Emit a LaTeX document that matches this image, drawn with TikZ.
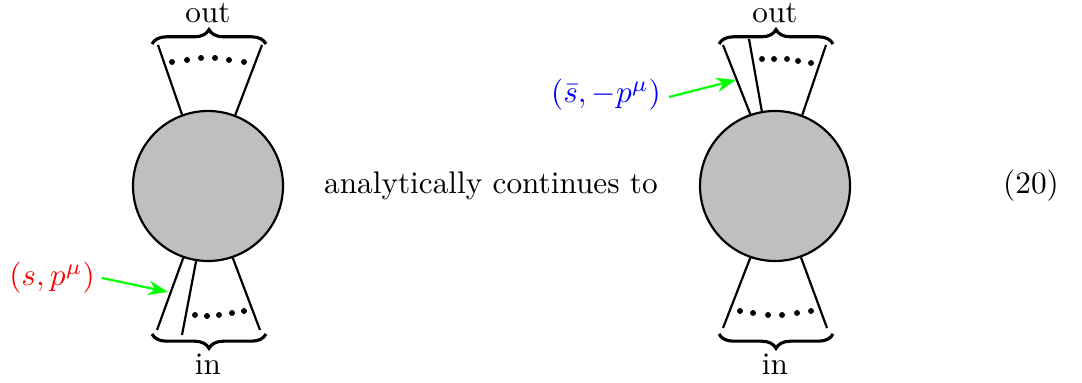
\documentclass[tikz,border=0pt]{standalone}
\usetikzlibrary{decorations.pathreplacing,arrows.meta,calc}
\begin{document}
\begin{tikzpicture}[x=0.32pt,y=-0.32pt,
  blob/.style={circle,draw,line width=0.7pt,fill=black!25,minimum size=48pt,inner sep=0pt},
  leg/.style={line width=0.7pt},
  dotmark/.style={circle,fill,inner sep=0pt,minimum size=1.9pt},
  bracetop/.style={decorate,decoration={brace,amplitude=4.6pt},line width=1pt},
  pointer/.style={draw=green,line width=0.7pt,-{Stealth[length=6.3pt,width=4.6pt]}}]
\useasboundingbox (0,0) rectangle (1082,383);
% left blob
\node[blob] (c1) at (208,186) {};
\coordinate (a1) at (158,45);
\coordinate (a2) at (262,45);
\draw[leg] (c1.110) -- (a1);
\draw[leg] (c1.69) -- (a2);
\foreach \x/\y [count=\i] in {172/62,187/60,201/58,215/58,229/60,244/62}
  \node[dotmark] (t\i) at (\x,\y) {};
\draw[bracetop] (152,44) -- (266,44);
\node (out1) at (208,13) {out};
\coordinate (b1) at (157,330);
\coordinate (b2) at (182,335);
\coordinate (b3) at (260,330);
\draw[leg] (c1.251) -- (b1);
\draw[leg] (c1.261) -- (b2);
\draw[leg] (c1.289) -- (b3);
\foreach \x/\y [count=\i] in {195/315,207/316,219/315,232/313,244/311}
  \node[dotmark] (u\i) at (\x,\y) {};
\draw[bracetop] (266,334) -- (152,334);
\node (in1) at (208,364) {in};
\node[text=red] (lab1) at (52,278) {$(s,p^\mu)$};
\coordinate (s1) at (102,278);
\coordinate (e1) at (168,292);
\draw[pointer] (s1) -- (e1);
% middle text
\node (mid) at (491,186) {analytically continues to};
% right blob
\node[blob] (c2) at (775,186) {};
\coordinate (p1) at (723,45);
\coordinate (p2) at (749,39);
\coordinate (p3) at (826,45);
\draw[leg] (c2.109) -- (p1);
\draw[leg] (c2.100) -- (p2);
\draw[leg] (c2.69) -- (p3);
\foreach \x/\y [count=\i] in {762/59,774/59,787/59,798/61,811/63}
  \node[dotmark] (v\i) at (\x,\y) {};
\draw[bracetop] (719,44) -- (833,44);
\node (out2) at (775,13) {out};
\coordinate (q1) at (723,328);
\coordinate (q2) at (827,328);
\draw[leg] (c2.251) -- (q1);
\draw[leg] (c2.290) -- (q2);
\foreach \x/\y [count=\i] in {740/311,753/313,768/315,782/315,797/313,811/311}
  \node[dotmark] (w\i) at (\x,\y) {};
\draw[bracetop] (833,334) -- (719,334);
\node (in2) at (775,364) {in};
\node[text=blue] (lab2) at (606,95) {$(\bar s,-p^\mu)$};
\coordinate (s2) at (669,97);
\coordinate (e2) at (736,80);
\draw[pointer] (s2) -- (e2);
% equation number
\node (eq) at (1031,186) {(20)};
\end{tikzpicture}
\end{document}
